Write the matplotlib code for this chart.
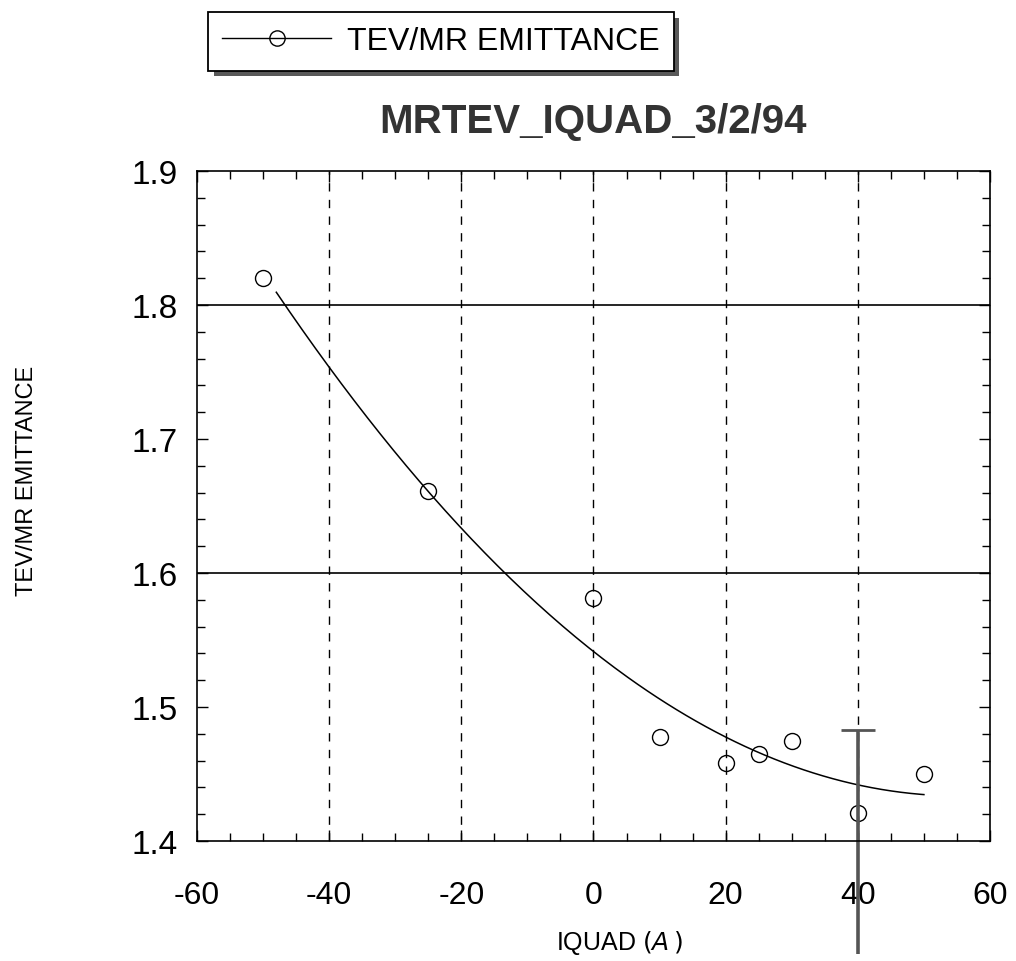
import numpy as np
import matplotlib.pyplot as plt
import matplotlib.patheffects as pe
from matplotlib.lines import Line2D
from matplotlib.ticker import MultipleLocator

plt.rcParams['font.family'] = ['Liberation Sans', 'DejaVu Sans']

# data
iquad = [-50, -25, 0, 10, 20, 25, 30, 40, 50]
emit = [1.820, 1.661, 1.581, 1.478, 1.458, 1.465, 1.475, 1.421, 1.450]
# error bar on the 40 A point
err_x = [40]
err_y = [1.421]
err_lo = [0.105]
err_hi = [0.062]

fig = plt.figure(figsize=(10.16, 9.62), dpi=100)
ax = fig.add_axes([0.1939, 0.1247, 0.7805, 0.6965])

# quadratic fit through the points
coef = np.polyfit(iquad, emit, 2)
xf = np.linspace(-48, 50, 200)
ax.plot(xf, np.polyval(coef, xf), color='black', lw=1.1)

ax.plot(iquad, emit, 'o', mfc='none', mec='black', ms=11.5, mew=1.0)

eb = ax.errorbar(err_x, err_y, yerr=[err_lo, err_hi], fmt='none', ecolor='#555555',
                 elinewidth=2.6, capsize=12, capthick=2)
eb[1][0].set_visible(False)
for art in list(eb[1]) + list(eb[2]):
    art.set_clip_on(False)

for xv in [-40, -20, 0, 20, 40]:
    ax.axvline(xv, color='black', lw=1.0, ls=(0, (6, 6)), zorder=0)
for yv in [1.6, 1.8]:
    ax.axhline(yv, color='black', lw=1.2, zorder=0)

ax.set_xlim(-60, 60)
ax.set_ylim(1.4, 1.9)
ax.xaxis.set_major_locator(MultipleLocator(20))
ax.xaxis.set_minor_locator(MultipleLocator(5))
ax.yaxis.set_major_locator(MultipleLocator(0.1))
ax.yaxis.set_minor_locator(MultipleLocator(0.02))
ax.tick_params(which='both', direction='in', top=True, right=True, width=1)
ax.tick_params(which='major', length=8)
ax.tick_params(which='minor', length=6)
ax.tick_params(axis='x', which='major', labelsize=23, pad=28)
ax.tick_params(axis='y', which='major', labelsize=24, pad=14)
ax.set_xticks([-60, -40, -20, 0, 20, 40, 60])
ax.set_xticklabels(['-60', '-40', '-20', '0', '20', '40', '60'])
for sp in ax.spines.values():
    sp.set_linewidth(1.2)

ax.set_title('MRTEV_IQUAD_3/2/94', fontsize=29, fontweight='bold', pad=28, color='#333333')
fig.text(0.027, 0.50, 'TEV/MR EMITTANCE', rotation=90, ha='center', va='center', fontsize=17)
fig.text(0.61, 0.02, r'IQUAD $($$\mathit{A}$$\,)$', ha='center', va='center', fontsize=18)

handle = Line2D([], [], color='black', lw=1, marker='o', mfc='none', mec='black', ms=11)
leg = fig.legend([handle], ['TEV/MR EMITTANCE'], loc='center', bbox_to_anchor=(0.434, 0.956),
                 fontsize=23, frameon=True, fancybox=False, shadow=False, handlelength=3.4,
                 borderpad=0.45, handletextpad=0.5, framealpha=1)
frame = leg.get_frame()
frame.set_facecolor('white')
frame.set_edgecolor('black')
frame.set_linewidth(1.3)
frame.set_path_effects([pe.SimplePatchShadow(offset=(4, -4), shadow_rgbFace='0.35', alpha=1),
                        pe.Normal()])

fig.savefig('out.png', dpi=100)
